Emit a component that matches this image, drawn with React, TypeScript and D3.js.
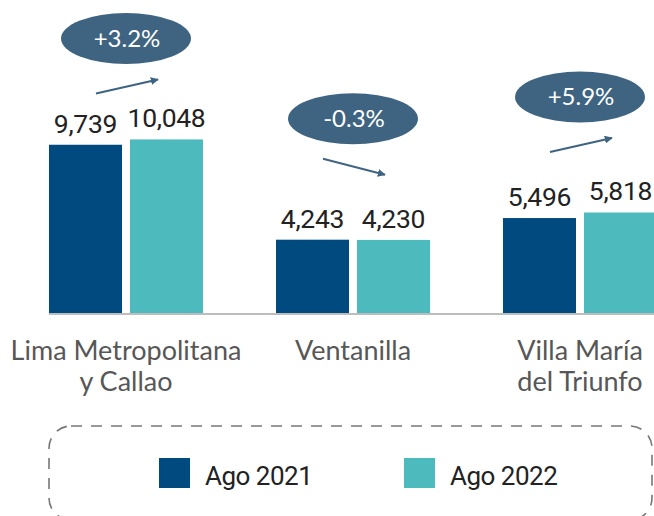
import React from "react";
import * as d3 from "d3";

const categories = ["Lima Metropolitana y Callao", "Ventanilla", "Villa María del Triunfo"];
const categoryLines = [["Lima Metropolitana", "y Callao"], ["Ventanilla"], ["Villa María", "del Triunfo"]];
const seriesNames = ["Ago 2021", "Ago 2022"];
const values2021 = [9739, 4243, 5496];
const values2022 = [10048, 4230, 5818];
const changeLabels = ["+3.2%", "-0.3%", "+5.9%"];

const W = 654;
const H = 516;
const BASE = 313;
const DARK = "#004a7f";
const TEAL = "#4dbbbd";
const BUBBLE = "#3e6481";

export default function App() {
  const x0 = d3
    .scaleBand<string>()
    .domain(categories)
    .range([12.5, 693.5])
    .paddingInner(0.3216)
    .paddingOuter(0.1608);
  const x1 = d3
    .scaleBand<string>()
    .domain(seriesNames)
    .range([0, x0.bandwidth()])
    .paddingInner(0.0988)
    .paddingOuter(0);
  const y = d3.scaleLinear().domain([0, 18118]).range([BASE, 0]);
  const color = d3.scaleOrdinal<string, string>().domain(seriesNames).range([DARK, TEAL]);
  const fmt = d3.format(",");

  const rows = categories.map((c, i) => ({
    cat: c,
    lines: categoryLines[i],
    vals: [values2021[i], values2022[i]],
    change: changeLabels[i],
  }));

  return (
    <svg
      width={W}
      height={H}
      style={{ position: "absolute", left: 0, top: 0, display: "block", background: "#fff" }}
    >
      <defs>
        <marker
          id="arrowhead"
          viewBox="0 0 10 10"
          refX="9"
          refY="5"
          markerWidth="4"
          markerHeight="4"
          orient="auto"
          markerUnits="strokeWidth"
        >
          <path d="M0,0 L10,5 L0,10 z" fill={BUBBLE} />
        </marker>
      </defs>

      {rows.map((r, i) => {
        const gx = x0(r.cat) as number;
        const cx = gx + x0.bandwidth() / 2;
        const maxTop = y(Math.max(...r.vals));
        const up = r.vals[1] >= r.vals[0];
        const ey = 0.8 * maxTop - 73;
        const ay = ey + 48;
        const dy = up ? -7 : 8;
        return (
          <g key={r.cat}>
            {r.vals.map((v, j) => {
              const s = seriesNames[j];
              const bx = gx + (x1(s) as number);
              return (
                <g key={s}>
                  <rect
                    x={bx}
                    y={y(v)}
                    width={x1.bandwidth()}
                    height={BASE - y(v)}
                    fill={color(s)}
                  />
                  <text
                    x={bx + x1.bandwidth() / 2}
                    y={y(v) - 12}
                    textAnchor="middle"
                    fontFamily="Roboto"
                    fontSize={26.5}
                    letterSpacing={-0.3}
                    fill="#222"
                  >
                    {fmt(v)}
                  </text>
                </g>
              );
            })}
            {r.lines.map((ln, k) => (
              <text
                key={k}
                x={cx}
                y={360 + k * 30.5}
                textAnchor="middle"
                fontFamily="Lato"
                fontSize={27}
                fill="#575757"
              >
                {ln}
              </text>
            ))}
            <ellipse cx={cx} cy={ey} rx={65} ry={25.5} fill={BUBBLE} />
            <text
              x={cx + 1}
              y={ey + 8.5}
              textAnchor="middle"
              fontFamily="Lato"
              fontSize={24}
              fill="#fff"
            >
              {r.change}
            </text>
            <line
              x1={cx - 30}
              y1={ay - dy}
              x2={cx + 32}
              y2={ay + dy}
              stroke={BUBBLE}
              strokeWidth={2}
              markerEnd="url(#arrowhead)"
            />
          </g>
        );
      })}

      <line x1={49} x2={W} y1={314} y2={314} stroke="#bdbdbd" strokeWidth={2} />

      <rect
        x={49}
        y={426}
        width={603}
        height={94}
        rx={22}
        ry={22}
        fill="none"
        stroke="#777"
        strokeWidth={1.6}
        strokeDasharray="11 9"
      />
      {seriesNames.map((s, j) => {
        const lx = 159 + j * 245;
        return (
          <g key={s}>
            <rect x={lx} y={458} width={31} height={30} fill={color(s)} />
            <text
              x={lx + 46}
              y={485}
              fontFamily="Roboto"
              fontSize={26}
              letterSpacing={-0.5}
              fill="#222"
            >
              {s}
            </text>
          </g>
        );
      })}
    </svg>
  );
}
